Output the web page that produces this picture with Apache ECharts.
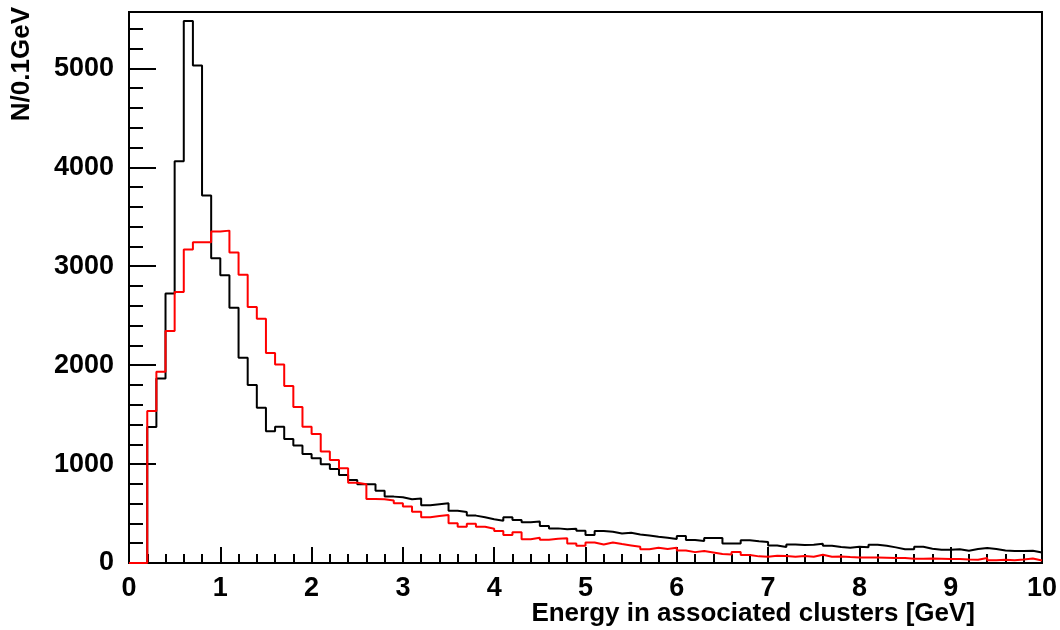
<!DOCTYPE html>
<html>
<head>
<meta charset="utf-8">
<script src="https://cdn.jsdelivr.net/npm/echarts@6/dist/echarts.min.js"></script>
<style>
html,body{margin:0;padding:0;background:#fff;}
#chart{width:1060px;height:630px;}
</style>
</head>
<body>
<div id="chart"></div>
<script>
// Histogram: 100 bins of 0.1 GeV from 0 to 10 GeV
const binWidth = 0.1;
const xTitle = 'Energy in associated clusters [GeV]';
const yTitle = 'N/0.1GeV';

const blackCounts = [
  0, 0, 1375, 1864, 2725, 4060, 5480, 5030, 3715, 3080,
  2910, 2580, 2075, 1800, 1570, 1332, 1378, 1254, 1187, 1102,
  1059, 998, 950, 890, 840, 795, 795, 731, 671, 664,
  644, 651, 584, 594, 604, 529, 516, 479, 462, 442,
  428, 462, 435, 411, 419, 374, 350, 340, 347, 326,
  283, 323, 316, 299, 306, 289, 279, 266, 256, 242,
  273, 232, 222, 252, 252, 198, 198, 229, 219, 212,
  178, 161, 188, 181, 185, 195, 174, 161, 154, 164,
  158, 185, 174, 158, 138, 138, 164, 144, 134, 134,
  138, 124, 141, 151, 141, 127, 121, 121, 124, 107
];

const redCounts = [
  0, 0, 1537, 1934, 2345, 2740, 3168, 3242, 3242, 3350,
  3360, 3138, 2915, 2588, 2470, 2124, 2006, 1789, 1578, 1378,
  1304, 1126, 1042, 957, 812, 795, 647, 644, 631, 604,
  570, 519, 462, 475, 485, 401, 367, 397, 367, 347,
  323, 283, 310, 239, 256, 235, 245, 249, 198, 174,
  208, 188, 208, 191, 178, 164, 138, 154, 141, 154,
  127, 110, 121, 107, 90, 87, 110, 80, 67, 63,
  73, 70, 63, 70, 63, 83, 63, 66, 60, 56,
  56, 56, 53, 50, 50, 43, 43, 46, 43, 40,
  40, 36, 33, 50, 29, 33, 29, 36, 46, 26
];

const xTickLabels = ['0','1','2','3','4','5','6','7','8','9','10'];
const yTickLabels = ['0','1000','2000','3000','4000','5000'];

function toSteps(counts) {
  const pts = counts.map((v, i) => [+(i * binWidth).toFixed(2), v]);
  pts.push([+(counts.length * binWidth).toFixed(2), counts[counts.length - 1]]);
  return pts;
}

const FONT = '"Liberation Sans", Arial, Helvetica, sans-serif';
const chart = echarts.init(document.getElementById('chart'), null, {renderer: 'canvas'});

chart.setOption({
  animation: false,
  backgroundColor: '#ffffff',
  grid: {
    left: 129, right: 17, top: 12, bottom: 67,
    show: true, borderColor: '#000', borderWidth: 2, backgroundColor: 'transparent'
  },
  xAxis: {
    type: 'value', min: 0, max: 10, interval: 1,
    axisLine: {show: true, lineStyle: {color: '#000', width: 2}},
    axisTick: {show: true, inside: true, length: 16, lineStyle: {color: '#000', width: 2}},
    minorTick: {show: true, splitNumber: 5, length: 9, lineStyle: {color: '#000', width: 2}},
    splitLine: {show: false},
    axisLabel: {
      color: '#000', fontFamily: FONT, fontWeight: 'bold', fontSize: 27, margin: 12,
      formatter: v => xTickLabels[Math.round(v)] || ''
    }
  },
  yAxis: [
    {
      type: 'value', min: 0, max: 5570, interval: 1000, position: 'left',
      axisLine: {show: true, lineStyle: {color: '#000', width: 2}},
      axisTick: {show: true, inside: true, length: 27, lineStyle: {color: '#000', width: 2}},
      splitLine: {show: false},
      axisLabel: {
        color: '#000', fontFamily: FONT, fontWeight: 'bold', fontSize: 27, margin: 15,
        showMaxLabel: false,
        formatter: v => (v % 1000 === 0 ? (yTickLabels[v / 1000] || '') : '')
      }
    },
    {
      type: 'value', min: 0, max: 5570, interval: 200, position: 'left', offset: 0,
      axisLine: {show: false},
      axisTick: {show: true, inside: true, length: 14, lineStyle: {color: '#000', width: 2}},
      splitLine: {show: false},
      axisLabel: {show: false}
    }
  ],
  series: [
    {
      name: 'black', type: 'line', step: 'end', data: toSteps(blackCounts),
      showSymbol: false, symbol: 'none', yAxisIndex: 0,
      lineStyle: {color: '#000', width: 2}, z: 3
    },
    {
      name: 'red', type: 'line', step: 'end', data: toSteps(redCounts),
      showSymbol: false, symbol: 'none', yAxisIndex: 0,
      lineStyle: {color: '#ff0000', width: 2}, z: 4
    }
  ],
  graphic: [
    {
      type: 'text', x: 975, y: 614,
      style: {text: xTitle, fill: '#000', font: 'bold 26px ' + FONT, textAlign: 'right', textVerticalAlign: 'middle'}
    },
    {
      type: 'text', x: 22, y: 7, rotation: Math.PI / 2,
      style: {text: yTitle, fill: '#000', font: 'bold 26px ' + FONT, textAlign: 'right', textVerticalAlign: 'middle'}
    }
  ]
});
</script>
</body>
</html>
